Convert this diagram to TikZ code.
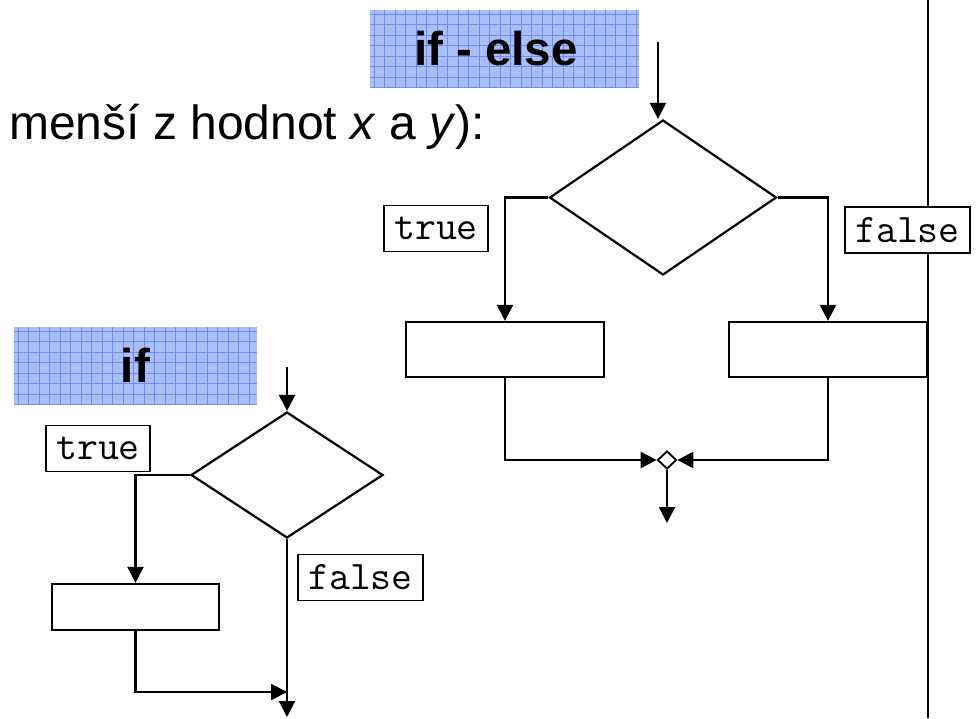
\documentclass[tikz,border=0pt]{standalone}
\usepackage{fontspec}
\setmainfont{Liberation Sans}
\usetikzlibrary{arrows.meta,shapes.geometric}

\definecolor{bannerfill}{RGB}{170,190,250}
\definecolor{bannergrid}{RGB}{112,142,240}

\tikzset{
  flow/.style={line width=2.2pt, line join=miter},
  arr/.style={flow, -{Triangle[width=16pt,length=16pt]}},
  block/.style={draw, line width=2.2pt, fill=white, rectangle, inner sep=0pt},
  decision/.style={draw, line width=2.2pt, diamond, inner sep=0pt, fill=white},
  joint/.style={draw, line width=1.8pt, diamond, inner sep=0pt, fill=white,
    minimum width=19pt, minimum height=18pt},
  caselabel/.style={draw, line width=1.5pt, fill=white, inner xsep=10pt,
    inner ysep=0pt, minimum height=46pt,
    font=\ttfamily\fontsize{40.6}{44}\selectfont},
  banner/.style={rectangle, fill=bannerfill, inner sep=0pt,
    path picture={
      \foreach \k in {0,...,26} {
        \draw[bannergrid, line width=0.9pt]
          ([xshift=4pt+\k*10.5pt]path picture bounding box.south west) --
          ([xshift=4pt+\k*10.5pt]path picture bounding box.north west);
      }
      \foreach \k in {0,...,8} {
        \draw[bannergrid, line width=0.9pt]
          ([yshift=-4pt-\k*10.5pt]path picture bounding box.north west) --
          ([yshift=-4pt-\k*10.5pt]path picture bounding box.north east);
      }
    }},
  bannertext/.style={inner sep=0pt, font=\bfseries\fontsize{47.5}{54}\selectfont},
}

\begin{document}
\begin{tikzpicture}[x=1pt, y=-1pt]
\useasboundingbox (0,0) rectangle (977,718);

% page separator on the right
\coordinate (sepTop) at (928,0);
\coordinate (sepBot) at (928,718);
\draw[line width=2.7pt] (sepTop) -- (sepBot);

% heading text
\node[anchor=base west, inner sep=0pt, font=\fontsize{48}{56}\selectfont]
  (intro) at (9,139) {menší z hodnot \textit{x} a \textit{y}):};

% ---------- if - else ----------
\node[banner, minimum width=269pt, minimum height=77pt] (bIE) at (504.5,48.5) {};
\node[bannertext, xshift=-8.5pt] (tIE) at (bIE.center) {if - else};

\node[decision, minimum width=227pt, minimum height=155pt] (ieDec) at (663,197.5) {};
\node[block, minimum width=198pt, minimum height=55pt] (ieT) at (505,349.5) {};
\node[block, minimum width=198pt, minimum height=55pt] (ieF) at (828,349.5) {};
\node[joint] (ieJoin) at (667,460) {};

\coordinate (ieIn) at (658,42);
\coordinate (ieOut) at (667,523);

\draw[arr] (ieIn) -- (ieIn |- ieDec.north);
\draw[arr] (ieDec.west) -| (ieT.north);
\draw[arr] (ieDec.east) -| (ieF.north);
\draw[arr] (ieT.south) |- (ieJoin.west);
\draw[arr] (ieF.south) |- (ieJoin.east);
\draw[arr] (ieJoin.south) -- (ieOut);

\node[caselabel] (ieTrue) at (436,228.5) {true};
\node[caselabel] (ieFalse) at (907.5,230) {false};

% ---------- if ----------
\node[banner, minimum width=243pt, minimum height=77pt] (bIF) at (135.5,365.5) {};
\node[bannertext] (tIF) at (bIF.center) {if};

\node[decision, minimum width=192pt, minimum height=126pt] (ifDec) at (287,475) {};
\node[block, minimum width=167pt, minimum height=46pt] (ifT) at (135.5,607) {};

\coordinate (ifIn) at (287,367);
\coordinate (ifMerge) at (287,692);
\coordinate (ifOut) at (287,717);

\draw[arr] (ifIn) -- (ifDec.north);
\draw[arr] (ifDec.west) -| (ifT.north);
\draw[arr] (ifT.south) |- (ifMerge);
\draw[arr] (ifDec.south) -- (ifOut);

\node[caselabel] (ifTrue) at (98,448.5) {true};
\node[caselabel] (ifFalse) at (360.5,577.5) {false};
\end{tikzpicture}
\end{document}
